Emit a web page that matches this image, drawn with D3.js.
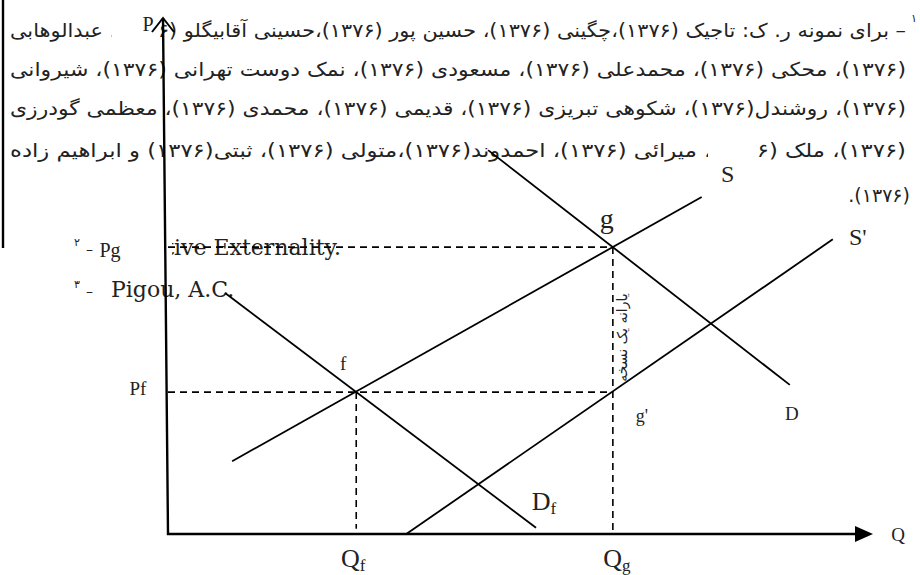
<!DOCTYPE html>
<html lang="fa">
<head>
<meta charset="UTF-8" />
<title>Pigou subsidy</title>
<style>
  body { margin: 0; background: #fff; }
  svg { display: block; }
  .curve { fill: none; stroke: #000; stroke-width: 1.8px; }
  .guide { fill: none; stroke: #000; stroke-width: 1.6px; stroke-dasharray: 7, 5; }
  .axis { fill: none; stroke: #000; stroke-width: 2.4px; }
  .fa { font-family: "DejaVu Sans", sans-serif; fill: #222; }
  .lbl { font-family: "Liberation Serif", "Times New Roman", serif; fill: #222; }
  .en { font-family: "DejaVu Serif", serif; fill: #222; }
</style>
</head>
<body>
<svg></svg>
<script src="https://cdnjs.cloudflare.com/ajax/libs/d3/7.8.5/d3.min.js"></script>
<script>
// footnote text (page behind the figure)
const footLines = [
  "– برای نمونه ر. ک: تاجیک (۱۳۷۶)،چگینی (۱۳۷۶)، حسین پور (۱۳۷۶)،حسینی آقابیگلو (۱۳۷۶)، عبدالوهابی",
  "(۱۳۷۶)، محکی (۱۳۷۶)، محمدعلی (۱۳۷۶)، مسعودی (۱۳۷۶)، نمک دوست تهرانی (۱۳۷۶)، شیروانی",
  "(۱۳۷۶)، روشندل(۱۳۷۶)، شکوهی تبریزی (۱۳۷۶)، قدیمی (۱۳۷۶)، محمدی (۱۳۷۶)، معظمی گودرزی",
  "(۱۳۷۶)، ملک (۱۳۷۶)، میرائی (۱۳۷۶)، احمدوند(۱۳۷۶)،متولی (۱۳۷۶)، ثبتی(۱۳۷۶) و ابراهیم زاده"
];
const footLast = "(۱۳۷۶).";
const noteNums = ["۱", "۲", "۳"];
const enNotes = ["Negative Externality.", "Pigou, A.C."];
const subsidyNote = "یارانه یک نسخه";

// curves, in (Q, P) units
const curveNames = ["S", "S'", "D", "Df"];
const curveStart = [[9.1, 14.1], [33.8, 0], [45.4, 74.4], [8.1, 46.7]];
const curveEnd = [[75.7, 65.3], [94.3, 57.1], [88.2, 28.9], [52.2, 1.2]];
const eqNames = ["f", "g"];
const eqQ = [26.7, 63.1];
const eqP = [27.5, 55.6];

const W = 920, H = 575;
const svg = d3.select("svg").attr("width", W).attr("height", H);

const x = d3.scaleLinear().domain([0, 100]).range([168, 873]);
const y = d3.scaleLinear().domain([0, 100]).range([534, 18]);
const line = d3.line().x(d => x(d[0])).y(d => y(d[1]));

// ---- footnote block, stretched to the full measure
const fa = svg.append("g").attr("class", "fa");
const baselines = [37, 76, 115, 157];
const left = 10, right = 906, span = right - left;

footLines.forEach(function (t, i) {
  fa.append("text")
    .attr("x", (left + right) / 2)
    .attr("y", baselines[i])
    .attr("direction", "rtl")
    .attr("text-anchor", "middle")
    .attr("textLength", span)
    .attr("lengthAdjust", "spacingAndGlyphs")
    .style("font-size", "19px")
    .text(t);
});
const last = fa.append("text")
  .attr("y", 202)
  .attr("direction", "rtl")
  .attr("text-anchor", "middle")
  .style("font-size", "19px")
  .text(footLast);
last.attr("x", 910 - last.node().getComputedTextLength() / 2);

fa.append("text").attr("x", 917).attr("y", 22).attr("text-anchor", "end")
  .style("font-size", "11px").text(noteNums[0]);

// left border of the footnote box
svg.append("line").attr("class", "axis")
  .attr("x1", 3).attr("x2", 3).attr("y1", 0).attr("y2", 248);

// english notes
const en = svg.append("g").attr("class", "en");
const neg = en.append("text").attr("y", 255).style("font-size", "22px").text(enNotes[0]);
neg.attr("x", 174 - neg.node().getSubStringLength(0, 5));
en.append("text").attr("x", 111).attr("y", 297)
  .style("font-size", "22px").text(enNotes[1]);

// white label boxes sitting over the page text
const boxes = [[112, 8, 48, 34], [96, 228, 76, 34], [708, 136, 48, 48]];
svg.selectAll("rect.box").data(boxes).join("rect")
  .attr("class", "box").attr("fill", "#fff")
  .attr("x", d => d[0]).attr("y", d => d[1])
  .attr("width", d => d[2]).attr("height", d => d[3]);

// note markers "۲ –" and "۳ -"
const marks = svg.append("g").attr("class", "fa");
[[246, 254, 1], [288, 296, 2]].forEach(function (r) {
  marks.append("text").attr("x", 74).attr("y", r[0]).style("font-size", "11px").text(noteNums[r[2]]);
  marks.append("text").attr("x", 86).attr("y", r[1]).style("font-size", "14px").text("–");
});

// ---- axes
svg.append("path").attr("class", "axis")
  .attr("d", d3.line()([[x(0) - 5, y(100)], [x(0), y(0)], [x(100) - 16, y(0)]]));
svg.append("path").attr("class", "axis").style("stroke-width", "2px")
  .attr("d", d3.line()([[x(0) - 16, y(100) + 14], [x(0) - 5, y(100)], [x(0) + 6, y(100) + 14]]));
svg.append("path").attr("fill", "#000")
  .attr("d", d3.line()([[x(100) - 18, y(0) - 8], [x(100), y(0)], [x(100) - 18, y(0) + 8]]) + "Z");

// ---- dashed guides
const guides = [
  [[0, eqP[0]], [eqQ[1], eqP[0]]],
  [[0, eqP[1]], [eqQ[1], eqP[1]]],
  [[eqQ[0], eqP[0]], [eqQ[0], 1]],
  [[eqQ[1], eqP[1]], [eqQ[1], 0.6]]
];
svg.selectAll("path.guide").data(guides).join("path")
  .attr("class", "guide").attr("d", d => line(d));

// ---- curves
svg.selectAll("path.curve").data(curveNames).join("path")
  .attr("class", "curve")
  .attr("d", (d, i) => line([curveStart[i], curveEnd[i]]));

// ---- labels
const lbl = svg.append("g").attr("class", "lbl").attr("text-anchor", "middle");
function put(txt, px, py, size, sub) {
  const t = lbl.append("text").attr("x", px).attr("y", py).style("font-size", size + "px").text(txt);
  if (sub) t.append("tspan").attr("dy", 4).style("font-size", Math.round(size * 0.65) + "px").text(sub);
  return t;
}
put("P", x(0) - 20, y(100) + 13, 20);
put("Q", x(100) + 25, y(0) + 7, 19);
put("Pf", x(0) - 30, y(eqP[0]) + 3, 19);
put("Pg", x(0) - 58, y(eqP[1]) + 10, 20);
put(eqNames[0], x(eqQ[0]) - 13, y(eqP[0]) - 22, 19);
put(eqNames[1], x(eqQ[1]) - 6, y(eqP[1]) - 19, 28);
put("g'", x(eqQ[1]) + 29, y(eqP[0]) + 30, 18);
put("Q", x(eqQ[0]) - 3, y(0) + 33, 26, "f");
put("Q", x(eqQ[1]) + 4, y(0) + 33, 26, "g");
put(curveNames[0], x(curveEnd[0][0]) + 26, y(curveEnd[0][1]) - 15, 24);
put(curveNames[1], x(curveEnd[1][0]) + 25, y(curveEnd[1][1]) + 6, 24);
put(curveNames[2], x(curveEnd[2][0]) + 2, y(curveEnd[2][1]) + 35, 19);
put("D", x(curveEnd[3][0]) + 8, y(curveEnd[3][1]) - 18, 26, "f");

// rotated note beside the subsidy gap
lbl.append("text").attr("class", "fa")
  .attr("transform", "translate(" + [x(eqQ[1]) + 14, (y(eqP[0]) + y(eqP[1])) / 2 + 18] + ") rotate(-90)")
  .attr("direction", "rtl")
  .style("font-size", "14px")
  .text(subsidyNote);
</script>
</body>
</html>
